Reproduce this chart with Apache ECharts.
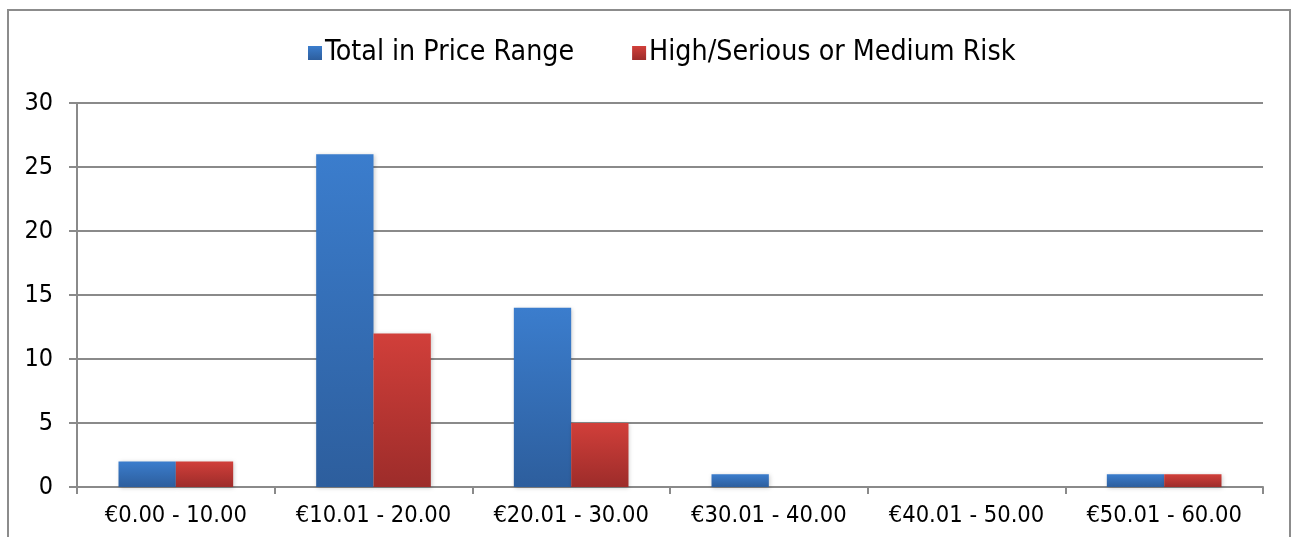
<!DOCTYPE html>
<html>
<head>
<meta charset="utf-8">
<script src="https://cdn.jsdelivr.net/npm/echarts@6/dist/echarts.min.js"></script>
<style>
  html, body { margin: 0; padding: 0; background: #fff; }
  #chart { width: 1294px; height: 537px; }
</style>
</head>
<body>
<div id="chart"></div>
<script>
const categories = ['€0.00 - 10.00', '€10.01 - 20.00', '€20.01 - 30.00', '€30.01 - 40.00', '€40.01 - 50.00', '€50.01 - 60.00'];
const totalInRange = [2, 26, 14, 1, 0, 1];
const highMediumRisk = [2, 12, 5, 0, 0, 1];
const seriesNames = ['Total in Price Range', 'High/Serious or Medium Risk'];

const FONT = '"DejaVu Sans Condensed", "DejaVu Sans", sans-serif';
const GRID_COLOR = '#8a8a8a';

const grad = (top, bottom) => new echarts.graphic.LinearGradient(0, 0, 0, 1, [
  { offset: 0, color: top },
  { offset: 1, color: bottom }
]);

const chart = echarts.init(document.getElementById('chart'));

chart.setOption({
  animation: false,
  textStyle: { fontFamily: FONT },
  graphic: [{
    type: 'rect',
    shape: { x: 8, y: 10, width: 1282, height: 600 },
    style: { fill: 'none', stroke: '#8c8c8c', lineWidth: 2 },
    z: -1
  }],
  legend: {
    left: 303,
    top: 34,
    itemWidth: 14,
    itemHeight: 14,
    itemGap: 58,
    icon: 'rect',
    textStyle: { fontSize: 28.3, color: '#000', fontFamily: FONT, padding: [0, 0, 0, -2] },
    data: seriesNames
  },
  grid: {
    left: 77,
    right: 31,
    top: 103,
    bottom: 50
  },
  xAxis: {
    type: 'category',
    data: categories,
    axisLine: { lineStyle: { color: GRID_COLOR, width: 2 } },
    axisTick: { show: true, length: 7, lineStyle: { color: GRID_COLOR, width: 2 } },
    axisLabel: { color: '#000', fontSize: 23.5, margin: 17, fontFamily: FONT, interval: 0 }
  },
  yAxis: {
    type: 'value',
    min: 0,
    max: 30,
    interval: 5,
    axisLine: { show: true, lineStyle: { color: GRID_COLOR, width: 2 } },
    axisTick: { show: true, length: 8, lineStyle: { color: GRID_COLOR, width: 2 } },
    splitLine: { lineStyle: { color: GRID_COLOR, width: 2 } },
    axisLabel: { color: '#000', fontSize: 25, margin: 24, fontFamily: FONT }
  },
  series: [
    {
      name: seriesNames[0],
      type: 'bar',
      data: totalInRange,
      barGap: '0%',
      barCategoryGap: '42%',
      itemStyle: {
        color: grad('#3b7dcd', '#2d5e9d'),
        shadowBlur: 4,
        shadowColor: 'rgba(0,0,0,0.2)',
        shadowOffsetX: 1,
        shadowOffsetY: 1
      }
    },
    {
      name: seriesNames[1],
      type: 'bar',
      data: highMediumRisk,
      barGap: '0%',
      barCategoryGap: '42%',
      itemStyle: {
        color: grad('#d13f3a', '#9d2c2a'),
        shadowBlur: 4,
        shadowColor: 'rgba(0,0,0,0.2)',
        shadowOffsetX: 1,
        shadowOffsetY: 1
      }
    }
  ]
});
</script>
</body>
</html>
